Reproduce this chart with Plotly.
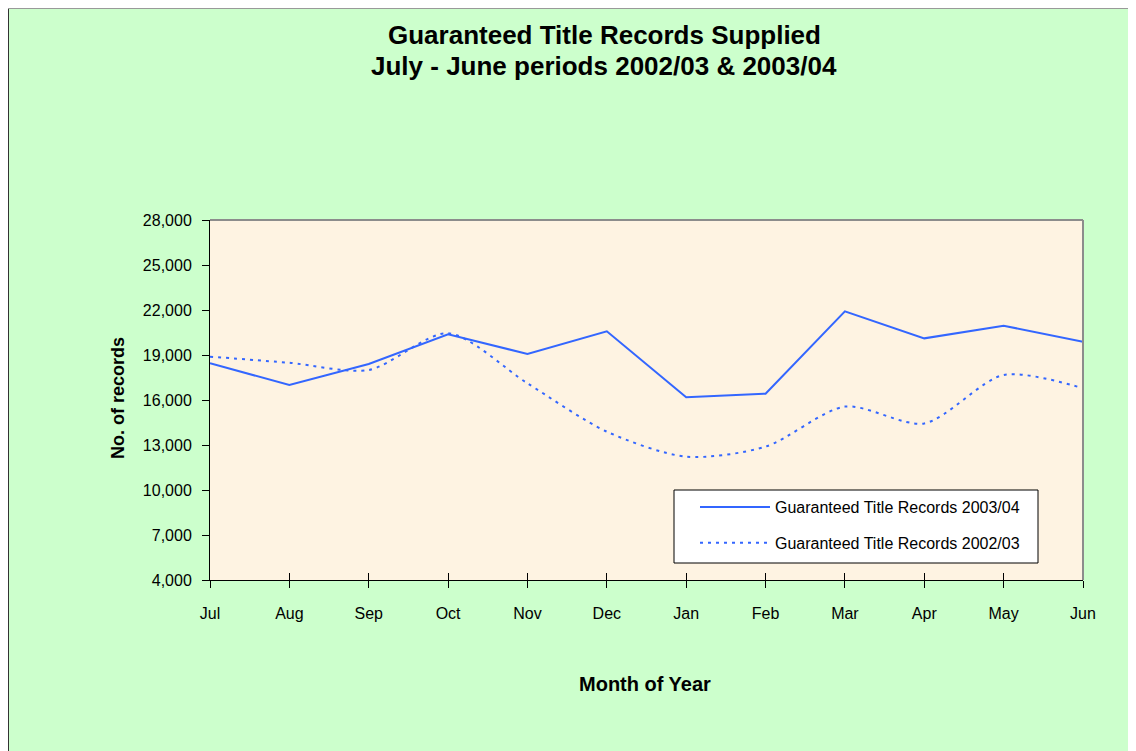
import plotly.graph_objects as go

months = ["Jul", "Aug", "Sep", "Oct", "Nov", "Dec", "Jan", "Feb", "Mar", "Apr", "May", "Jun"]
records_2003_04 = [18450, 17000, 18400, 20380, 19070, 20580, 16180, 16420, 21910, 20110, 20950, 19890]
records_2002_03 = [18890, 18480, 18000, 20450, 17110, 13890, 12220, 12890, 15560, 14440, 17670, 16780]
y_ticks = [4000, 7000, 10000, 13000, 16000, 19000, 22000, 25000, 28000]

FONT = "Liberation Sans, Arial"
BLUE = "#3366FF"

OFF = 8                      # browser body margin
W, H = 1136 - OFF, 751 - OFF
PL, PR, PT, PB = 210, 1083, 220, 580   # plot area in page pixels
ML, MT = PL - OFF, PT - OFF
PW, PH = PR - PL, PB - PT
MR, MB = W - ML - PW, H - MT - PH


def px_x(px):
    return (px - PL) / PW


def px_y(py):
    return 1 - (py - PT) / PH


fig = go.Figure()
fig.add_trace(go.Scatter(
    x=months, y=records_2003_04, mode="lines",
    name="Guaranteed Title Records 2003/04",
    line=dict(color=BLUE, width=2), legendgroup="a"))
fig.add_trace(go.Scatter(
    x=months, y=records_2002_03, mode="lines",
    name="Guaranteed Title Records 2002/03",
    line=dict(color=BLUE, width=2, dash="3px,5px", shape="spline", smoothing=0.8),
    legendgroup="b"))
# empty helper trace so the overlaid tick axis (inside tick marks) is drawn
fig.add_trace(go.Scatter(x=[], y=[], xaxis="x2", yaxis="y", showlegend=False,
                         hoverinfo="skip", mode="lines"))

annotations = [
    dict(text="<b>Guaranteed Title Records Supplied</b>", xref="paper", yref="paper",
         x=px_x(604), y=px_y(35), xanchor="center", yanchor="middle", showarrow=False,
         font=dict(family=FONT, size=26, color="black")),
    dict(text="<b>July - June periods 2002/03 &amp; 2003/04</b>", xref="paper", yref="paper",
         x=px_x(604), y=px_y(66), xanchor="center", yanchor="middle", showarrow=False,
         font=dict(family=FONT, size=26, color="black")),
    dict(text="<b>Month of Year</b>", xref="paper", yref="paper",
         x=px_x(645), y=px_y(684), xanchor="center", yanchor="middle", showarrow=False,
         font=dict(family=FONT, size=20, color="black")),
    dict(text="<b>No. of records</b>", xref="paper", yref="paper", textangle=-90,
         x=px_x(118), y=px_y(398), xanchor="center", yanchor="middle", showarrow=False,
         font=dict(family=FONT, size=18, color="black")),
]

fig.update_layout(
    width=W, height=H,
    margin=dict(l=ML, r=MR, t=MT, b=MB),
    paper_bgcolor="#CCFFCC",
    plot_bgcolor="#FEF3E2",
    showlegend=True,
    legend=dict(
        x=px_x(695), y=px_y(490), xanchor="left", yanchor="top",
        bgcolor="rgba(0,0,0,0)", borderwidth=0,
        font=dict(family=FONT, size=16, color="black"),
        tracegroupgap=12, traceorder="grouped", itemwidth=70),
    xaxis=dict(
        type="category", categoryorder="array", categoryarray=months,
        range=[0, len(months) - 1],
        showgrid=False, zeroline=False,
        showline=True, linecolor="black", linewidth=1,
        ticks="outside", ticklen=7, tickcolor="black", ticklabelstandoff=12,
        tickfont=dict(family=FONT, size=16, color="black")),
    xaxis2=dict(
        overlaying="x", anchor="y", side="bottom", type="linear",
        range=[0, len(months) - 1], dtick=1, tick0=0, autorange=False,
        showgrid=False, zeroline=False, showline=False,
        ticks="inside", ticklen=7, tickcolor="black", showticklabels=False),
    yaxis=dict(
        range=[4000, 28000], tickvals=y_ticks,
        tickformat=",d",
        showgrid=False, zeroline=False,
        showline=True, linecolor="black", linewidth=1,
        ticks="outside", ticklen=7, tickcolor="black", ticklabelstandoff=7,
        tickfont=dict(family=FONT, size=16, color="black")),
    annotations=annotations,
    shapes=[
        dict(type="line", xref="paper", yref="paper", x0=0, x1=1, y0=1, y1=1,
             line=dict(color="#8C8C8C", width=2), layer="above"),
        dict(type="line", xref="paper", yref="paper", x0=1, x1=1, y0=0, y1=1,
             line=dict(color="#8C8C8C", width=2), layer="above"),
        dict(type="rect", xref="paper", yref="paper",
             x0=px_x(674), x1=px_x(1038), y0=px_y(490), y1=px_y(563),
             fillcolor="white", line=dict(color="black", width=1), layer="below"),
        dict(type="line", xref="paper", yref="paper",
             x0=px_x(8), x1=px_x(8), y0=px_y(7), y1=px_y(760),
             line=dict(color="#333333", width=2)),
        dict(type="line", xref="paper", yref="paper",
             x0=px_x(7), x1=px_x(1140), y0=px_y(8), y1=px_y(8),
             line=dict(color="#999999", width=2)),
    ],
)

fig.write_html("out.html")
